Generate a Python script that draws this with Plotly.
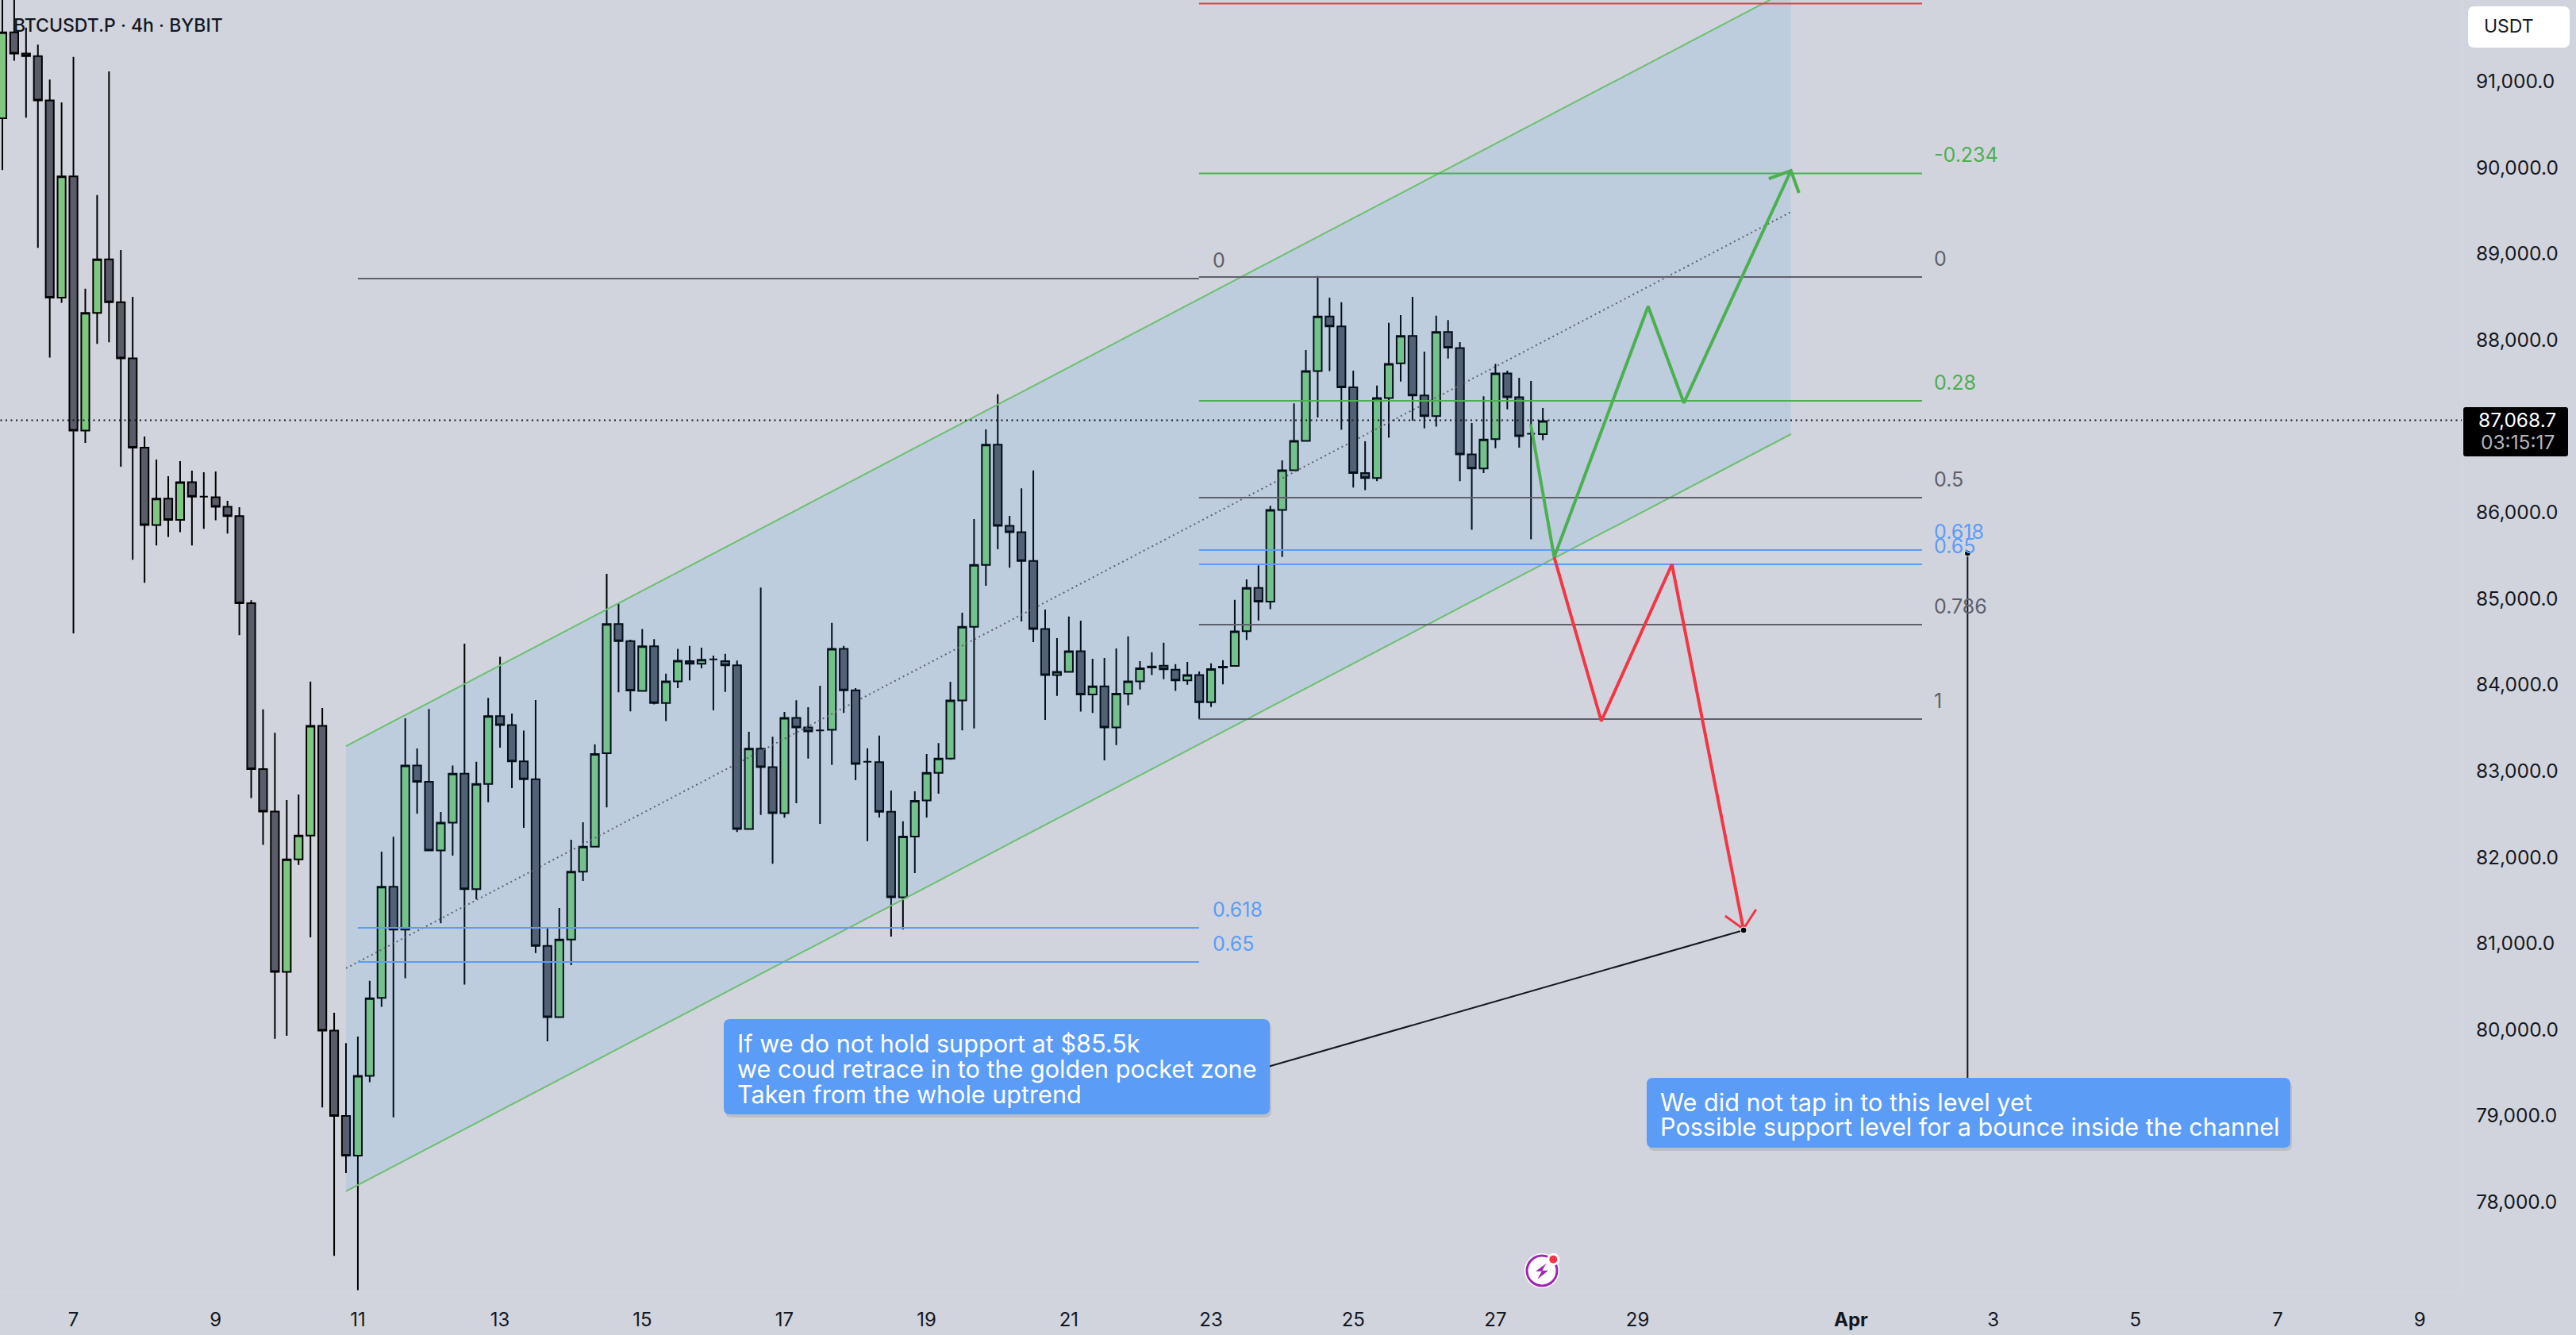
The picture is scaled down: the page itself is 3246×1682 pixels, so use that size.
"""BTCUSDT.P 4h chart with a rising channel, fib levels and two scenario paths."""
import pandas as pd
import plotly.graph_objects as go

WIDTH = 3246
HEIGHT = 1682
PLOT_W = 3102
PLOT_H = 1627

BG = "#d1d4dc"
GREY = "#5d606b"
GREEN = "#4caf50"
BLUE = "#5b9cf6"
RED = "#f23645"
FONT = "Inter"

# 4h candles, first one is Mar 6 00:00
opens = [
    90574, 91570, 91324, 91294, 90781, 88493, 89898, 86949, 88315, 88936, 88438, 87787, 86752, 85854,
    86160, 85913, 86352, 86184, 86175, 86066, 85958, 84947, 83023, 82529, 80669, 81975, 82252, 83523,
    79987, 78998, 78538, 79463, 80368, 81658, 81159, 83063, 82875, 82079, 82400, 82969, 81629, 82850,
    83636, 83533, 83112, 82905, 80971, 80145, 81045, 81831, 82123, 83206, 84705, 84508, 83929, 84447,
    83789, 84040, 84274, 84245, 84295, 84274, 84225, 82326, 83259, 83045, 82511, 83617, 83505, 83472,
    83477, 84418, 83937, 83107, 83103, 82527, 81536, 82239, 82659, 82979, 83144, 83818, 84673, 85392,
    86786, 85845, 85771, 85438, 84648, 84114, 84151, 84389, 83888, 83982, 83505, 83896, 84040, 84213,
    84221, 84176, 84052, 84113, 83797, 84210, 84220, 84623, 85124, 84964, 86029, 86489, 86830, 87640,
    88273, 88158, 87451, 86456, 86399, 87328, 87731, 88047, 87357, 87118, 88093, 87908, 86674, 86510,
    86851, 87612, 87336, 86913, 86908,
]
highs = [
    92100, 92050, 91624, 91427, 91023, 90756, 91284, 88596, 89681, 91116, 89045, 88502, 86880, 86614,
    86421, 86594, 86485, 86466, 86475, 86135, 86061, 84981, 83716, 83444, 82662, 82727, 84037, 83730,
    80195, 79843, 79918, 80566, 82064, 82237, 83612, 83261, 83720, 82524, 83063, 84478, 83107, 83849,
    84325, 83666, 83468, 83824, 81179, 81411, 82202, 82405, 83310, 85287, 84942, 84522, 84648, 84529,
    84130, 84418, 84451, 84430, 84340, 84360, 84282, 83456, 85129, 83398, 83686, 83822, 83740, 83990,
    84718, 84451, 83962, 83263, 83411, 82774, 82416, 82765, 83197, 83324, 84036, 84837, 85923, 86963,
    87370, 85960, 86280, 86486, 84874, 84541, 84792, 84743, 84303, 84311, 84422, 84562, 84274, 84377,
    84488, 84241, 84266, 84154, 84249, 84286, 84985, 85223, 85387, 86078, 86604, 87266, 87883, 88742,
    88491, 88438, 87644, 86826, 87472, 88199, 88290, 88500, 87866, 88282, 88232, 87977, 87036, 87348,
    87723, 87645, 87562, 87525, 87213,
]
lows = [
    89972, 91240, 90579, 89070, 87797, 88433, 84596, 86806, 87955, 87975, 86530, 85450, 85183, 85617,
    85716, 85770, 85617, 85810, 85908, 85755, 84577, 82687, 82143, 79893, 79928, 81911, 81070, 79097,
    77376, 78335, 76976, 79389, 80264, 78983, 80595, 82504, 82069, 81233, 82019, 80521, 81510, 82637,
    83270, 82801, 82341, 80887, 79863, 80145, 80748, 81723, 82123, 82578, 83913, 83691, 83929, 83773,
    83579, 83962, 84052, 84192, 83703, 83917, 82293, 82326, 82490, 81923, 82457, 82626, 83144, 82387,
    83070, 83674, 82893, 82186, 82461, 81080, 81162, 81816, 82461, 82737, 83131, 83472, 83493, 85150,
    85573, 85359, 84735, 84496, 83592, 83871, 84151, 83690, 83674, 83123, 83300, 83764, 83945, 84114,
    84065, 83929, 84000, 83603, 83743, 84006, 84220, 84520, 84746, 84878, 85482, 86489, 86822, 87102,
    87640, 86958, 86288, 86259, 86362, 86867, 87517, 87065, 86974, 86995, 87784, 86362, 85799, 86456,
    86744, 87196, 86752, 85688, 86839,
]
closes = [
    91570, 91324, 91294, 90781, 88493, 89898, 86949, 88315, 88936, 88438, 87787, 86752, 85854, 86160,
    85913, 86352, 86184, 86184, 86066, 85958, 84947, 83023, 82529, 80669, 81975, 82252, 83523, 79987,
    78998, 78538, 79463, 80363, 81658, 81159, 83063, 82875, 82079, 82400, 82969, 81629, 82850, 83636,
    83533, 83112, 82905, 80971, 80145, 81045, 81831, 82123, 83196, 84705, 84508, 83933, 84447, 83789,
    84040, 84278, 84245, 84291, 84295, 84225, 82326, 83259, 83045, 82511, 83617, 83505, 83460, 83472,
    84418, 83937, 83082, 83107, 82527, 81536, 82239, 82654, 82979, 83144, 83818, 84673, 85392, 86786,
    85845, 85771, 85438, 84648, 84114, 84151, 84389, 83888, 83982, 83505, 83896, 84040, 84192, 84200,
    84180, 84052, 84113, 83797, 84183, 84200, 84619, 85124, 84964, 86029, 86489, 86830, 87640, 88273,
    88158, 87451, 86456, 86399, 87328, 87723, 88047, 87357, 87118, 88093, 87912, 86674, 86510, 86847,
    87612, 87336, 86884, 86913, 87061,
]
LAST_PRICE = 87068.7

# x values below are fractional days counted from Mar 1 = 1 (Apr 1 = 32)
channel_days = [10.833, 31.156]
channel_upper = [83289, 92074]
channel_lower = [78124, 86908]
channel_middle = [80711, 89486]

left_fib_days = [11.0, 22.83]
left_fib_prices = [88713, 81181, 80785]
left_fib_labels = ["0", "0.618", "0.65"]
left_fib_colors = [GREY, BLUE, BLUE]

right_fib_days = [22.83, 33.0]
right_fib_prices = [91903, 89934, 88731, 87295, 86172, 85564, 85398, 84698, 83602]
right_fib_labels = [None, "-0.234", "0", "0.28", "0.5", "0.618", "0.65", "0.786", "1"]
right_fib_colors = [RED, GREEN, GREY, GREEN, GREY, BLUE, BLUE, GREY, GREY]

green_days = [27.496, 27.826, 29.147, 29.65, 31.156]
green_prices = [87023, 85481, 88391, 87270, 89965]
green_head_days = [30.844, 31.156, 31.268]
green_head_prices = [89873, 89965, 89707]

red_days = [27.826, 28.489, 29.482, 30.487]
red_prices = [85481, 83579, 85398, 81167]
red_head_days = [30.23, 30.487, 30.665]
red_head_prices = [81319, 81167, 81393]

note_line_days = [23.82, 30.49]
note_line_prices = [79574, 81153]
level_line_days = [33.64, 33.64]
level_line_prices = [85527, 79440]

note_one = [
    "If we do not hold support at $85.5k",
    "we coud retrace in to the golden pocket zone",
    "Taken from the whole uptrend",
]
note_two = [
    "We did not tap in to this level yet",
    "Possible support level for a bounce inside the channel",
]

tick_days = [7, 9, 11, 13, 15, 17, 19, 21, 23, 25, 27, 29, 32, 34, 36, 38, 40]
tick_labels = ["7", "9", "11", "13", "15", "17", "19", "21", "23", "25", "27", "29", "<b>Apr</b>", "3", "5", "7", "9"]
price_ticks = [78000 + 1000 * i for i in range(14)]


def day(d):
    return pd.Timestamp("2025-03-01") + pd.to_timedelta(d - 1, unit="D")


def days(values):
    return [day(d) for d in values]


def px(x):
    return x / PLOT_W


def py(y):
    return 1 - y / PLOT_H


def rounded_box(x0, y0, x1, y1, r, color):
    """Rounded rectangle given in page pixels."""
    points = [
        f"M {px(x0 + r)} {py(y0)}", f"L {px(x1 - r)} {py(y0)}", f"Q {px(x1)} {py(y0)} {px(x1)} {py(y0 + r)}",
        f"L {px(x1)} {py(y1 - r)}", f"Q {px(x1)} {py(y1)} {px(x1 - r)} {py(y1)}",
        f"L {px(x0 + r)} {py(y1)}", f"Q {px(x0)} {py(y1)} {px(x0)} {py(y1 - r)}",
        f"L {px(x0)} {py(y0 + r)}", f"Q {px(x0)} {py(y0)} {px(x0 + r)} {py(y0)} Z",
    ]
    return dict(type="path", xref="paper", yref="paper", path=" ".join(points),
                fillcolor=color, line=dict(width=0))


def dot(cx, cy, r, fill, line=None):
    return dict(type="circle", xref="paper", yref="paper",
                x0=px(cx - r), x1=px(cx + r), y0=py(cy + r), y1=py(cy - r),
                fillcolor=fill, line=line or dict(width=0))


def page_text(x, y, text, color, size, anchor="left", weight=400):
    return dict(xref="paper", yref="paper", x=px(x), y=py(y), text=text, showarrow=False,
                xanchor=anchor, yanchor="middle", borderpad=0,
                font=dict(family=FONT, size=size, color=color, weight=weight))


def line_trace(x, y, color, width, dash="solid"):
    return go.Scatter(x=days(x), y=y, mode="lines", line=dict(color=color, width=width, dash=dash),
                      hoverinfo="skip", showlegend=False)


fig = go.Figure()

# channel fill and borders sit behind the candles
fig.add_trace(go.Scatter(
    x=days(channel_days + channel_days[::-1]),
    y=channel_upper + channel_lower[::-1],
    mode="lines", fill="toself", fillcolor="rgba(33,150,243,0.1)",
    line=dict(width=0), hoverinfo="skip", showlegend=False,
))
fig.add_trace(line_trace(channel_days, channel_upper, "#6cbf70", 2))
fig.add_trace(line_trace(channel_days, channel_lower, "#6cbf70", 2))
fig.add_trace(line_trace(channel_days, channel_middle, GREY, 2, "2px,4px"))

for price, color in zip(left_fib_prices, left_fib_colors):
    fig.add_trace(line_trace(left_fib_days, [price, price], color, 2))
for price, color in zip(right_fib_prices, right_fib_colors):
    fig.add_trace(line_trace(right_fib_days, [price, price], color, 2))

fig.add_trace(line_trace([5.9, 40.59], [LAST_PRICE, LAST_PRICE], "#131722", 2, "2px,4.5px"))

fig.add_trace(go.Candlestick(
    x=[day(6 + k / 6) for k in range(len(opens))],
    open=opens, high=highs, low=lows, close=closes,
    increasing=dict(fillcolor="#7fc781", line=dict(color="#000000", width=2)),
    decreasing=dict(fillcolor="#5a5c69", line=dict(color="#000000", width=2)),
    whiskerwidth=0, hoverinfo="skip", showlegend=False,
))

fig.add_trace(line_trace(green_days, green_prices, GREEN, 4))
fig.add_trace(line_trace(green_head_days, green_head_prices, GREEN, 4))
fig.add_trace(line_trace(red_days, red_prices, RED, 4))
fig.add_trace(line_trace(red_head_days, red_head_prices, RED, 3))

fig.add_trace(line_trace(note_line_days, note_line_prices, "#131722", 2))
fig.add_trace(line_trace(level_line_days, level_line_prices, "#131722", 2))
fig.add_trace(go.Scatter(
    x=days([note_line_days[1], level_line_days[0]]),
    y=[note_line_prices[1], level_line_prices[0]],
    mode="markers", marker=dict(color="#000000", size=8, line=dict(color="#ffffff", width=1)),
    hoverinfo="skip", showlegend=False,
))

shapes = [
    rounded_box(914, 1288, 1602, 1408, 8, "rgba(0,0,0,0.10)"),
    rounded_box(912, 1284, 1600, 1404, 8, BLUE),
    rounded_box(2077, 1362, 2888, 1450, 8, "rgba(0,0,0,0.10)"),
    rounded_box(2075, 1358, 2886, 1446, 8, BLUE),
    rounded_box(3110, 8, 3238, 60, 8, "#ffffff"),
    rounded_box(3104, 513, 3236, 575, 3, "#000000"),
    # alert icon under the chart
    dot(1943, 1601, 22, "#ffffff"),
    dot(1943, 1601, 19, "rgba(0,0,0,0)", dict(color="#9c27b0", width=3)),
    dict(type="path", xref="paper", yref="paper", fillcolor="#9c27b0", line=dict(width=0),
         path=f"M {px(1948.3)} {py(1592)} L {px(1935)} {py(1601.7)} L {px(1942.7)} {py(1601.7)} "
              f"L {px(1937.3)} {py(1611.7)} L {px(1951)} {py(1600.7)} L {px(1943.3)} {py(1600.7)} Z"),
    dot(1957.3, 1586.7, 8, "#ffffff"),
    dot(1957.3, 1586.7, 5, "#f23645"),
]

annotations = [
    page_text(16, 32, "BTCUSDT.P · 4h · BYBIT", "#131722", 23, weight=500),
    page_text(3129, 33, "USDT", "#131722", 23),
    page_text(3172, 529, "87,068.7", "#ffffff", 24.5, anchor="center"),
    page_text(3172, 557, "03:15:17", "#b2b5be", 24.5, anchor="center"),
]
for i, text in enumerate(note_one):
    annotations.append(page_text(928, 1314 + 32 * i, text, "#ffffff", 30.6))
for i, text in enumerate(note_two):
    annotations.append(page_text(2091, 1388 + 31 * i, text, "#ffffff", 30.6))

for price, text, color in zip(left_fib_prices, left_fib_labels, left_fib_colors):
    annotations.append(dict(x=day(23.01), y=price, text=text, showarrow=False, xanchor="left", yanchor="middle",
                            yshift=23, borderpad=0, font=dict(family=FONT, size=25, color=color)))
for price, text, color in zip(right_fib_prices, right_fib_labels, right_fib_colors):
    if text is None:
        continue
    annotations.append(dict(x=day(33.16), y=price, text=text, showarrow=False, xanchor="left", yanchor="middle",
                            yshift=23, borderpad=0, font=dict(family=FONT, size=25, color=color)))

fig.update_layout(
    width=WIDTH,
    height=HEIGHT,
    margin=dict(l=0, r=WIDTH - PLOT_W, t=0, b=HEIGHT - PLOT_H, pad=0),
    paper_bgcolor=BG,
    plot_bgcolor=BG,
    showlegend=False,
    boxgap=0.2,
    boxgroupgap=0.15,
    hovermode=False,
    shapes=shapes,
    annotations=annotations,
    font=dict(family=FONT, color="#131722"),
    xaxis=dict(
        type="date",
        range=[day(5.967), day(40.59)],
        tickvals=days(tick_days),
        ticktext=tick_labels,
        tickfont=dict(size=24),
        ticks="outside", ticklen=14, tickcolor=BG,
        showgrid=False, zeroline=False,
        showline=True, linecolor="#d6d9e0", linewidth=1,
        rangeslider=dict(visible=False),
    ),
    yaxis=dict(
        side="right",
        range=[76963, 91945],
        tickvals=price_ticks,
        ticktext=[f"{p:,.1f}" for p in price_ticks],
        tickfont=dict(size=24.5),
        ticks="outside", ticklen=12, tickcolor=BG,
        showgrid=False, zeroline=False,
        showline=True, linecolor="#d6d9e0", linewidth=1,
    ),
)

# plotly's page keeps the browser's default body margin, drop it so the chart fills the window
fig.write_html("out.html", config={"displayModeBar": False}, post_script="document.body.style.margin = '0';")
